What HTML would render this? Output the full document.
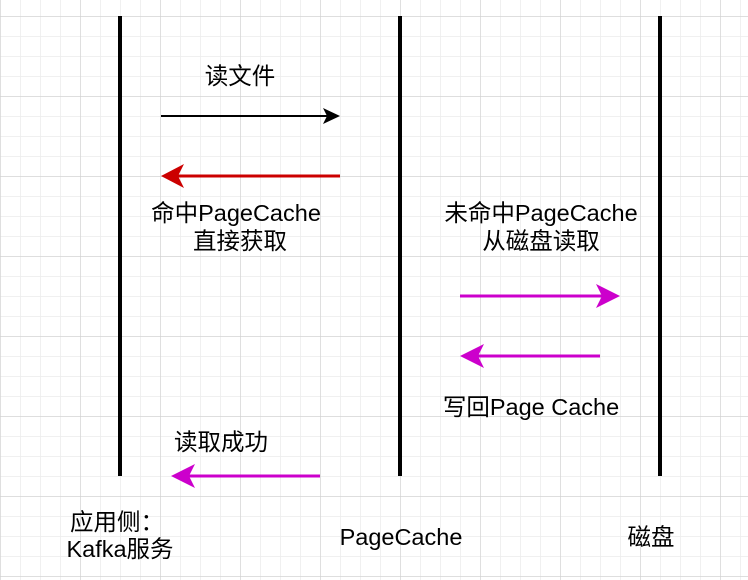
<!DOCTYPE html>
<html><head><meta charset="utf-8"><style>
html,body{margin:0;padding:0;background:#fff;}
svg{display:block;}
text{font-family:"Liberation Sans","Noto Sans CJK SC",sans-serif;font-size:23.5px;fill:#000;text-anchor:middle;}
</style></head><body>
<svg width="748" height="580" viewBox="0 0 748 580" xmlns="http://www.w3.org/2000/svg">
<defs>
<pattern id="minor" width="20" height="20" patternUnits="userSpaceOnUse" x="0" y="16">
<path d="M0 0H20M0 0V20" stroke="#ececec" stroke-width="1.5" fill="none"/>
</pattern>
<pattern id="major" width="80" height="80" patternUnits="userSpaceOnUse" x="0" y="16">
<path d="M0 0H80M0 0V80" stroke="#d0d0d0" stroke-width="1.2" fill="none"/>
</pattern>
</defs>
<rect width="748" height="580" fill="#fff"/>
<rect width="748" height="580" fill="url(#minor)"/>
<rect width="748" height="580" fill="url(#major)"/>
<g stroke="#000" stroke-width="4">
<line x1="120" y1="16" x2="120" y2="476"/>
<line x1="400" y1="16" x2="400" y2="476"/>
<line x1="660" y1="16" x2="660" y2="476"/>
</g>
<line x1="161" y1="116" x2="330" y2="116" stroke="#000" stroke-width="2"/>
<path d="M340 116 L323 108 L327 116 L323 124 Z" fill="#000"/>
<line x1="340" y1="176" x2="172" y2="176" stroke="#cc0000" stroke-width="3"/>
<path d="M161 176 L184 164 L178 176 L184 188 Z" fill="#cc0000"/>
<line x1="460" y1="296" x2="608" y2="296" stroke="#cc00cc" stroke-width="3"/>
<path d="M620 296 L596 284 L602 296 L596 308 Z" fill="#cc00cc"/>
<line x1="600" y1="356" x2="472" y2="356" stroke="#cc00cc" stroke-width="3"/>
<path d="M460 356 L484 344 L478 356 L484 368 Z" fill="#cc00cc"/>
<line x1="320" y1="476" x2="184" y2="476" stroke="#cc00cc" stroke-width="3"/>
<path d="M171 476 L195 464 L189 476 L195 488 Z" fill="#cc00cc"/>
<text x="240" y="84">读文件</text>
<text x="236" y="221">命中PageCache</text>
<text x="240" y="249">直接获取</text>
<text x="541" y="221">未命中PageCache</text>
<text x="541" y="249">从磁盘读取</text>
<text x="531" y="415">写回Page Cache</text>
<text x="221" y="450">读取成功</text>
<text x="117" y="530">应用侧：</text>
<text x="120" y="557">Kafka服务</text>
<text x="401" y="545">PageCache</text>
<text x="651" y="545">磁盘</text>
</svg>
</body></html>
